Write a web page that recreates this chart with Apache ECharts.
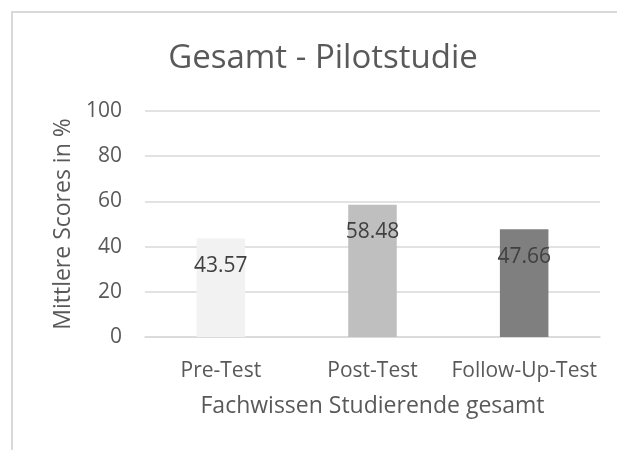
<!DOCTYPE html>
<html>
<head>
<meta charset="utf-8">
<script src="https://cdn.jsdelivr.net/npm/echarts@6/dist/echarts.min.js"></script>
<style>
  html, body { margin: 0; padding: 0; background: #fff; }
  #chart { width: 617px; height: 450px; }
</style>
</head>
<body>
<div id="chart"></div>
<script>
// data
var categories = ['Pre-Test', 'Post-Test', 'Follow-Up-Test'];
var scores = [43.57, 58.48, 47.66];
var barColors = ['#f2f2f2', '#bfbfbf', '#7f7f7f'];
var yTicks = [0, 20, 40, 60, 80, 100];

var FONT = 'Open Sans';
var chart = echarts.init(document.getElementById('chart'));

var option = {
  backgroundColor: '#fff',
  animation: false,
  title: {
    text: 'Gesamt - Pilotstudie',
    left: 318,
    top: 37,
    textAlign: 'center',
    textStyle: { fontFamily: FONT, fontSize: 33, fontWeight: 'normal', color: '#595959' }
  },
  graphic: [
    {
      type: 'rect',
      shape: { x: 12, y: 12, width: 700, height: 500 },
      style: { fill: 'none', stroke: '#d9d9d9', lineWidth: 2 },
      silent: true
    }
  ],
  grid: { left: 145, right: 17, top: 111, bottom: 113 },
  xAxis: {
    type: 'category',
    data: categories,
    name: 'Fachwissen Studierende gesamt',
    nameLocation: 'middle',
    nameGap: 58,
    nameTextStyle: { fontFamily: FONT, fontSize: 23, color: '#595959' },
    axisLine: { lineStyle: { color: '#d9d9d9', width: 1.5 } },
    axisTick: { show: false },
    axisLabel: { fontFamily: FONT, fontSize: 21, color: '#595959', margin: 24, interval: 0 }
  },
  yAxis: {
    type: 'value',
    min: yTicks[0],
    max: yTicks[yTicks.length - 1],
    interval: 20,
    name: 'Mittlere Scores in %',
    nameLocation: 'middle',
    nameGap: 68,
    nameTextStyle: { fontFamily: FONT, fontSize: 23, color: '#595959' },
    axisLine: { show: false },
    axisTick: { show: false },
    splitLine: { lineStyle: { color: '#d9d9d9', width: 1.5 } },
    axisLabel: { fontFamily: FONT, fontSize: 21, color: '#595959', margin: 23 }
  },
  series: [
    {
      type: 'bar',
      barWidth: '32%',
      data: scores.map(function (v, i) {
        return { value: v, itemStyle: { color: barColors[i] } };
      }),
      label: {
        show: true,
        position: 'insideTop',
        distance: 17,
        fontFamily: FONT,
        fontSize: 21,
        color: '#404040'
      }
    }
  ]
};

chart.setOption(option);
</script>
</body>
</html>
